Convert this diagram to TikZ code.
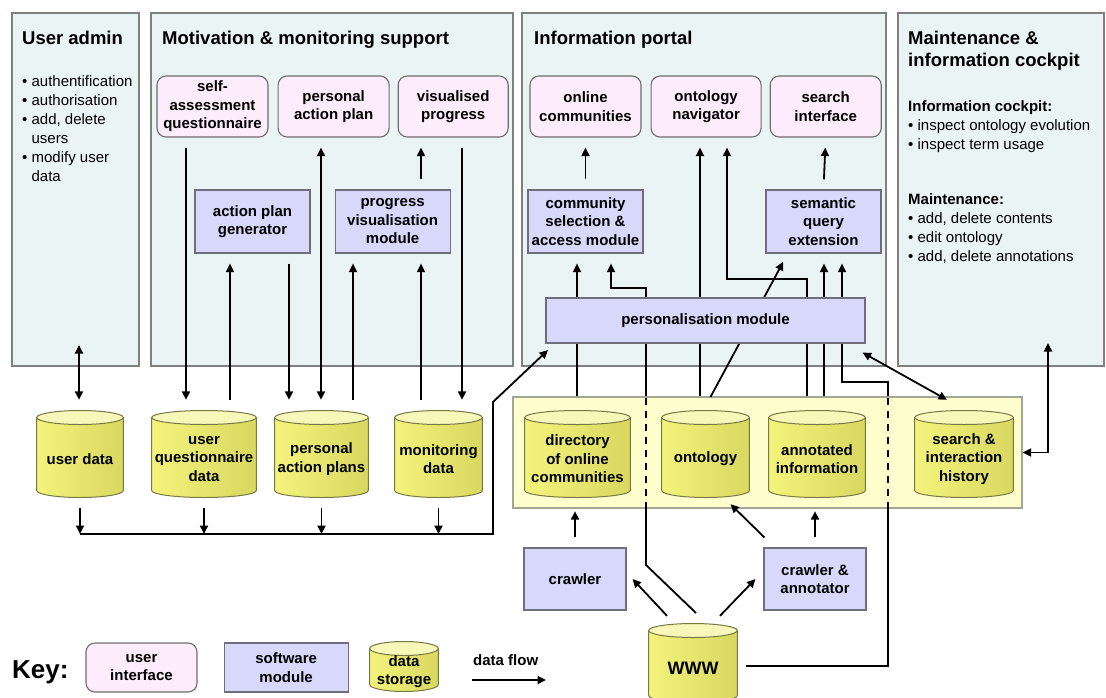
\documentclass[tikz,border=0pt]{standalone}
\usepackage{fontspec}
\setmainfont{Liberation Sans}
\usetikzlibrary{positioning,arrows.meta,calc}

\definecolor{panelfill}{RGB}{234,244,245}
\definecolor{paneledge}{RGB}{128,128,128}
\definecolor{uifill}{RGB}{253,236,251}
\definecolor{uiedge}{RGB}{110,110,110}
\definecolor{modfill}{RGB}{216,216,250}
\definecolor{modedge}{RGB}{110,110,125}
\definecolor{repofill}{RGB}{255,255,206}
\definecolor{repoedge}{RGB}{165,165,150}
\definecolor{cylleft}{RGB}{244,244,125}
\definecolor{cylright}{RGB}{216,216,96}
\definecolor{cyltop}{RGB}{247,247,185}
\definecolor{cyledge}{RGB}{120,120,70}

\newcommand{\lblfont}{\fontsize{15}{18.5}\selectfont\bfseries}
\newcommand{\txtfont}{\fontsize{15}{19}\selectfont}
\newcommand{\ttlfont}{\fontsize{18.5}{22}\selectfont\bfseries}

\pgfdeclarelayer{background}
\pgfdeclarelayer{wires}
\pgfsetlayers{background,wires,main}

\begin{document}
\begin{tikzpicture}[
  x=1pt, y=-1pt,
  panel/.style={rectangle, draw=paneledge, line width=1.5pt, fill=panelfill, inner sep=0pt},
  repo/.style={rectangle, draw=repoedge, line width=1.2pt, fill=repofill, inner sep=0pt},
  ui/.style={rectangle, rounded corners=9pt, draw=uiedge, line width=1.1pt, fill=uifill, align=center,
    font=\lblfont, inner sep=1pt, minimum width=111pt, minimum height=61pt},
  module/.style={rectangle, draw=modedge, line width=1.1pt, fill=modfill, align=center,
    font=\lblfont, inner sep=1pt, minimum width=115pt, minimum height=63pt},
  store/.style 2 args={rectangle, minimum width=#1, minimum height=#2+10pt, inner sep=0pt,
    align=center, font=\lblfont,
    path picture={
      \draw[draw=cyledge, line width=1pt, left color=cylleft, right color=cylright]
        ([shift={(-#1/2+0.7pt,-7.5pt)}]path picture bounding box.north)
        -- ([shift={(-#1/2+0.7pt,-#2+7.5pt)}]path picture bounding box.north)
        arc[start angle=180, end angle=360, x radius=#1/2-0.7pt, y radius=7pt]
        -- ([shift={(#1/2-0.7pt,-7.5pt)}]path picture bounding box.north) -- cycle;
      \draw[draw=cyledge, line width=1pt, fill=cyltop]
        ([yshift=-7.5pt]path picture bounding box.north) ellipse[x radius=#1/2-0.7pt, y radius=7pt];
    }},
  title/.style={font=\ttlfont, anchor=base west, inner sep=0pt},
  bullets/.style={font=\txtfont, align=left, anchor=north west, inner sep=0pt},
  flow/.style={-{Triangle[length=8.5pt,width=8pt]}, line width=1.8pt},
  biflow/.style={{Triangle[length=8.5pt,width=8pt]}-{Triangle[length=8.5pt,width=8pt]}, line width=1.8pt},
  wire/.style={line width=1.8pt},
  gap/.style={shorten <=10pt, shorten >=10pt},
  divider/.style={line width=1.8pt, dash pattern=on 7pt off 6pt}
]
\useasboundingbox (0,0) rectangle (1106,697);
\clip (0,0) rectangle (1106,697);

% Panels
\begin{pgfonlayer}{background}
\node[panel, minimum width=127pt, minimum height=353pt] (admin) at (75.5,189.5) {};
\node[panel, minimum width=362pt, minimum height=353pt] (motiv) at (332,189.5) {};
\node[panel, minimum width=364pt, minimum height=353pt] (portal) at (704,189.5) {};
\node[panel, minimum width=206pt, minimum height=353pt] (maint) at (1001,189.5) {};
\node[repo, minimum width=509pt, minimum height=111pt] (repo) at (767.5,452.5) {};
\end{pgfonlayer}

% Titles and texts
\node[title] (admintitle) at (22,44) {User admin};
\node[title] (motivtitle) at (162,44) {Motivation \& monitoring support};
\node[title] (portaltitle) at (534,44) {Information portal};
\node[title, anchor=north west, align=left] (mainttitle) at (908,30.5) {Maintenance \&\\information cockpit};
\node[bullets] (admintxt) at (22,75.5) {\textbullet\ authentification\\ \textbullet\ authorisation\\
  \textbullet\ add, delete\\ \phantom{\textbullet\ }users\\ \textbullet\ modify user\\ \phantom{\textbullet\ }data};
\node[bullets] (cockpittxt) at (908,100) {\textbf{Information cockpit:}\\ \textbullet\ inspect ontology evolution\\
  \textbullet\ inspect term usage};
\node[bullets] (mainttxt) at (908,193) {\textbf{Maintenance:}\\ \textbullet\ add, delete contents\\
  \textbullet\ edit ontology\\ \textbullet\ add, delete annotations};

% User interfaces
\node[ui] (selfass) at (212.5,106.5) {self-\\assessment\\questionnaire};
\node[ui, right=9pt of selfass] (pap) {personal\\action plan};
\node[ui, right=8pt of pap, minimum width=110pt] (visprog) {visualised\\progress};
\node[ui] (onlcom) at (585.5,106.5) {online\\communities};
\node[ui, right=9pt of onlcom, minimum width=110pt] (ontnav) {ontology\\navigator};
\node[ui, right=8pt of ontnav] (search) {search\\interface};

% Software modules
\node[module] (apgen) at (252.5,221.5) {action plan\\generator};
\node[module, right=24pt of apgen] (pvm) {progress\\visualisation\\module};
\node[module] (comsel) at (585.5,221.5) {community\\selection \&\\access module};
\node[module] (semq) at (823.5,221.5) {semantic\\query\\extension};
\node[module, minimum width=319pt, minimum height=45pt] (pers) at (705.5,320.5) {personalisation module};
\node[module, minimum width=102pt, minimum height=62pt] (crawler) at (575,579) {crawler};
\node[module, minimum width=102pt, minimum height=62pt] (crawlann) at (815,579) {crawler \&\\annotator};

% Data storage
\node[store={88pt}{88pt}] (userdata) at (80,459) {user data};
\node[store={106pt}{88pt}] (uqdata) at (204,459) {user\\questionnaire\\data};
\node[store={95pt}{88pt}] (papdata) at (321.5,459) {personal\\action plans};
\node[store={89pt}{88pt}] (mondata) at (438.5,459) {monitoring\\data};
\node[store={107pt}{88pt}] (dir) at (577.5,459) {directory\\of online\\communities};
\node[store={89pt}{88pt}] (onto) at (705.5,459) {ontology};
\node[store={98pt}{88pt}] (annot) at (817,459) {annotated\\information};
\node[store={100pt}{88pt}] (hist) at (964,459) {search \&\\interaction\\history};
\node[store={90pt}{80pt}, font={\fontsize{18}{20}\selectfont\bfseries}] (www) at (693,668) {WWW};

% Key
\node[anchor=base west, font={\fontsize{26}{30}\selectfont\bfseries}, inner sep=0pt] (key) at (12,678) {Key:};
\node[ui, minimum height=49pt] (keyui) at (141.5,667.5) {user\\interface};
\node[module, minimum width=124pt, minimum height=49pt, right=26pt of keyui] (keymod) {software\\module};
\node[store={70pt}{51pt}] (keystore) at (404,671.5) {data\\storage};
\node[anchor=base west, font=\lblfont, inner sep=0pt] (flowlbl) at (473,665) {data flow};
\coordinate (flowa) at (472,680);
\coordinate (flowb) at (546,680);

% Lanes and bends
\coordinate (lq) at (186,0);
\coordinate (lg1) at (230,0);
\coordinate (lg2) at (289,0);
\coordinate (lp) at (321,0);
\coordinate (lv1) at (353,0);
\coordinate (lv2) at (421,0);
\coordinate (lm) at (462,0);
\coordinate (pa) at (577,0);
\coordinate (pc) at (611,0);
\coordinate (pd) at (646,0);
\coordinate (pe) at (700,0);
\coordinate (pf) at (727,0);
\coordinate (pg) at (807,0);
\coordinate (ph) at (824,0);
\coordinate (pi) at (842,0);
\coordinate (pj) at (888,0);
\coordinate (elbw) at (646,288);
\coordinate (elbo) at (807,279);
\coordinate (elbs) at (888,382);
\coordinate (dga) at (710.5,397);
\coordinate (dgb) at (788,253);
\coordinate (adminin) at (79,345);
\coordinate (maintin) at (1048,343);
\coordinate (bus) at (493,534);
\coordinate (busup) at (493,402);
\coordinate (persin) at (548,350);
\coordinate (wl) at (696,613);
\coordinate (wk) at (646,565);
\coordinate (wr) at (746,666);

\begin{pgfonlayer}{wires}
% Motivation & monitoring
\draw[flow, gap] (selfass.south -| lq) -- (uqdata.north -| lq);
\draw[flow, gap] (uqdata.north -| lg1) -- (apgen.south -| lg1);
\draw[flow, gap] (apgen.south -| lg2) -- (papdata.north -| lg2);
\draw[biflow, gap] (pap.south -| lp) -- (papdata.north -| lp);
\draw[flow, gap] (papdata.north -| lv1) -- (pvm.south -| lv1);
\draw[flow, gap] (mondata.north -| lv2) -- (pvm.south -| lv2);
\draw[flow, gap] (pvm.north -| lv2) -- (visprog.south -| lv2);
\draw[flow, gap] (visprog.south -| lm) -- (mondata.north -| lm);

% User admin
\draw[biflow, shorten >=10pt] (adminin) -- (userdata.north -| adminin);

% Bus to personalisation
\foreach \s in {userdata,uqdata,papdata,mondata}
  \draw[flow] (\s.south) -- (\s.south |- bus);
\draw[flow] (userdata.south |- bus) -- (bus) -- (busup) -- (persin);

% Information portal
\draw[flow, shorten >=10pt] (repo.north -| pa) -- (comsel.south -| pa);
\draw[flow, gap] (comsel.north) -- (onlcom.south);
\draw[flow, gap] (semq.north) -- (search.south);
\draw[flow, shorten >=10pt] (repo.north -| pe) -- (ontnav.south -| pe);
\draw[flow, shorten >=10pt] (repo.north -| pg) -- (elbo) -| (ontnav.south -| pf);
\draw[flow, shorten >=10pt] (repo.north -| ph) -- (semq.south -| ph);
\draw[flow, shorten >=10pt] (dga) -- (dgb);

% WWW feeds
\draw[wire] (wl) -- (wk) -- (repo.south -| pd);
\draw[divider] (repo.south -| pd) -- (repo.north -| pd);
\draw[flow, shorten >=10pt] (repo.north -| pd) -- (elbw) -| (comsel.south -| pc);
\draw[wire] (wr) -| (repo.south -| pj);
\draw[divider] (repo.south -| pj) -- (repo.north -| pj);
\draw[flow, shorten >=10pt] (repo.north -| pj) -- (elbs) -| (semq.south -| pi);
\draw[flow] ([shift={(-26pt,7pt)}]www.north) -- ([xshift=6pt]crawler.east);
\draw[flow] ([shift={(27pt,7pt)}]www.north) -- ([xshift=-8pt]crawlann.west);
\draw[flow] ([shift={(1pt,10pt)}]crawlann.north west) -- ([shift={(25pt,4pt)}]onto.south);
\draw[flow, shorten <=10pt, shorten >=3pt] (crawlann.north) -- (crawlann.north |- annot.south);
\draw[flow, shorten <=10pt, shorten >=3pt] (crawler.north) -- (crawler.north |- dir.south);

% History and maintenance
\draw[biflow] ([shift={(-3pt,-9pt)}]pers.south east) -- ([shift={(-17pt,10pt)}]hist.north);
\draw[biflow] (maintin) |- (repo.east);

% Key arrow
\draw[flow] (flowa) -- (flowb);
\end{pgfonlayer}

\end{tikzpicture}
\end{document}
